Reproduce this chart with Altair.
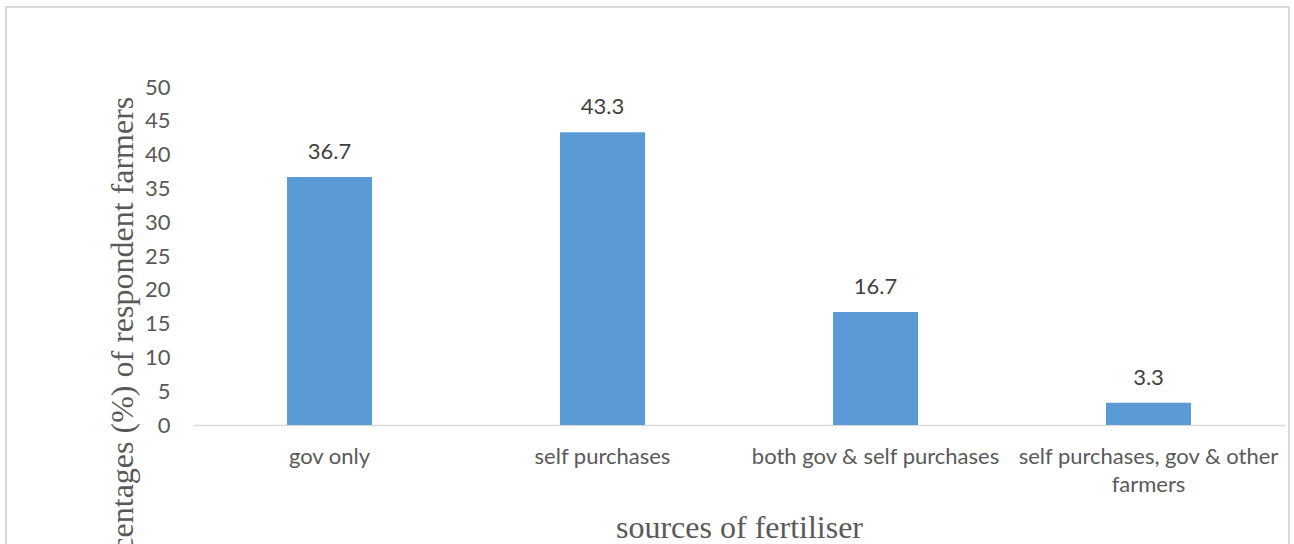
import altair as alt
import pandas as pd

# Sources of fertiliser and share of respondent farmers (%)
categories = [
    "gov only",
    "self purchases",
    "both gov & self purchases",
    "self purchases, gov & other farmers",
]
shares = [36.7, 43.3, 16.7, 3.3]
y_ticks = [0, 5, 10, 15, 20, 25, 30, 35, 40, 45, 50]

df = pd.DataFrame({"source": categories, "share": shares})

GREY = "#595959"
LABEL_FONT = "Lato"
TITLE_FONT = "Liberation Serif"

x_enc = alt.X(
    "source:N",
    sort=categories,
    scale=alt.Scale(paddingInner=0.6886, paddingOuter=0.3443),
    axis=alt.Axis(
        title="sources of fertiliser",
        labelAngle=0,
        labelFont=LABEL_FONT,
        labelFontSize=22,
        labelColor=GREY,
        labelPadding=21,
        labelLineHeight=28,
        labelLimit=400,
        labelOverlap=False,
        labelExpr="datum.label == 'self purchases, gov & other farmers' ? "
                  "['self purchases, gov & other', 'farmers'] : datum.label",
        domainColor="#d9d9d9",
        domainWidth=1.5,
        ticks=False,
        titleFont=TITLE_FONT,
        titleFontSize=32,
        titleFontWeight="normal",
        titleColor=GREY,
        titleY=112,
        titleBaseline="alphabetic",
    ),
)

y_enc = alt.Y(
    "share:Q",
    scale=alt.Scale(domain=[0, 50]),
    axis=alt.Axis(
        values=y_ticks,
        tickCount=11,
        domain=False,
        ticks=False,
        grid=False,
        labelOverlap=False,
        labelFont=LABEL_FONT,
        labelFontSize=22,
        labelColor=GREY,
        labelPadding=23,
        title="Percentages (%) of respondent farmers",
        titleFont=TITLE_FONT,
        titleFontSize=32,
        titleFontWeight="normal",
        titleColor=GREY,
        titleAngle=270,
        titleAlign="center",
        titleBaseline="alphabetic",
        titleX=-61,
        titleY=258,
    ),
)

bars = alt.Chart(df).mark_bar(color="#5b9bd5").encode(x=x_enc, y=y_enc)

labels = alt.Chart(df).mark_text(
    dy=-18, baseline="alphabetic", font=LABEL_FONT, fontSize=22, color="#404040"
).encode(
    x=x_enc,
    y=y_enc,
    text=alt.Text("share:Q", format=".1f"),
)

# light frame around the whole chart area
frame = alt.Chart(alt.Data(values=[{"f": 1}])).mark_rect(
    fill="transparent", stroke="#d9d9d9", strokeWidth=2
).encode(
    x=alt.value(-187), x2=alt.value(1096), y=alt.value(-80), y2=alt.value(480)
)

chart = alt.layer(frame, bars, labels).properties(
    width=1092,
    height=338,
    autosize=alt.AutoSizeParams(type="none"),
    padding={"left": 193, "top": 87, "right": 9, "bottom": 119},
    background="white",
).configure_view(strokeWidth=0)

chart.save("out.html", embed_options={"renderer": "svg", "actions": False})
